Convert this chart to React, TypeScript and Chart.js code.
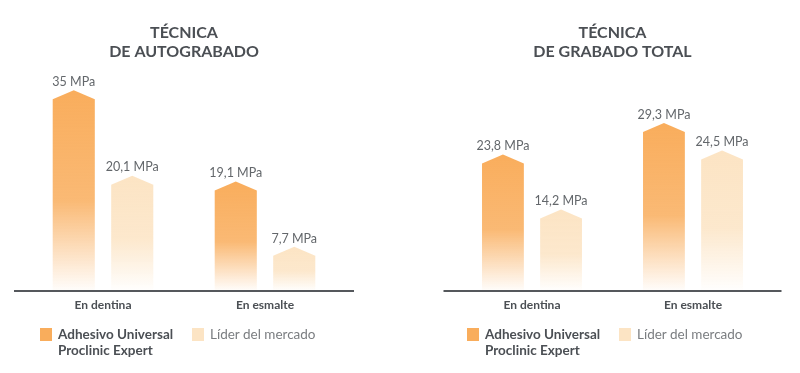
import React, { useEffect, useRef } from "react";
import { Chart, registerables } from "chart.js";

Chart.register(...registerables);

const categories = ["En dentina", "En esmalte"];
const seriesNames = ["Adhesivo Universal\nProclinic Expert", "Líder del mercado"];
const autograbadoProclinic = [35, 19.1];
const autograbadoLider = [20.1, 7.7];
const grabadoTotalProclinic = [23.8, 29.3];
const grabadoTotalLider = [14.2, 24.5];
const titleAuto = ["TÉCNICA", "DE AUTOGRABADO"];
const titleTotal = ["TÉCNICA", "DE GRABADO TOTAL"];
const unit = "MPa";

const ORANGE = [249, 173, 92];
const LIGHT = [252, 228, 196];
const TEXT_DARK = "#4b4f54";

const rgba = (c: number[], a: number) => `rgba(${c[0]},${c[1]},${c[2]},${a})`;

const shapePlugin = {
  id: "shapeBars",
  afterDatasetsDraw(chart: any) {
    const ctx = chart.ctx;
    const area = chart.chartArea;
    chart.data.datasets.forEach((ds: any, i: number) => {
      const meta = chart.getDatasetMeta(i);
      const col = ds.baseRGB as number[];
      meta.data.forEach((bar: any, j: number) => {
        const { x, y, base, width } = bar.getProps(["x", "y", "base", "width"], true);
        const half = width / 2;
        const drop = 9;
        const g = ctx.createLinearGradient(0, y, 0, base);
        g.addColorStop(0, rgba(col, 1));
        g.addColorStop(0.55, rgba(col, 0.85));
        g.addColorStop(1, rgba(col, 0.02));
        ctx.save();
        ctx.beginPath();
        ctx.moveTo(x, y);
        ctx.lineTo(x + half, y + drop);
        ctx.lineTo(x + half, base);
        ctx.lineTo(x - half, base);
        ctx.lineTo(x - half, y + drop);
        ctx.closePath();
        ctx.fillStyle = g;
        ctx.fill();
        const v = ds.data[j];
        const label = String(v).replace(".", ",") + " " + unit;
        ctx.font = "12.5px Lato";
        ctx.fillStyle = "#63676b";
        ctx.textAlign = "center";
        ctx.textBaseline = "bottom";
        ctx.fillText(label, x, y - 2);
        ctx.restore();
      });
    });
    ctx.save();
    ctx.strokeStyle = "#55585c";
    ctx.lineWidth = 2;
    ctx.beginPath();
    ctx.moveTo(area.left - 8, area.bottom);
    ctx.lineTo(area.right + 8, area.bottom);
    ctx.stroke();
    ctx.restore();
  },
};

function makeConfig(title: string[], a: number[], b: number[], padL: number, padR: number): any {
  return {
    type: "bar",
    data: {
      labels: categories,
      datasets: [
        { label: seriesNames[0], data: a, backgroundColor: "rgba(0,0,0,0)", borderWidth: 0, baseRGB: ORANGE },
        { label: seriesNames[1], data: b, backgroundColor: "rgba(0,0,0,0)", borderWidth: 0, baseRGB: LIGHT },
      ],
    },
    options: {
      responsive: false,
      devicePixelRatio: 1,
      animation: false,
      layout: { padding: { left: padL, right: padR, top: 0, bottom: 53.6 } },
      datasets: { bar: { categoryPercentage: 0.722, barPercentage: 0.72 } },
      plugins: {
        legend: { display: false },
        tooltip: { enabled: false },
        title: {
          display: true,
          text: title,
          color: TEXT_DARK,
          font: { family: "Lato", size: 16, weight: "bold", lineHeight: 1.2 },
          padding: { top: 23.4, bottom: 22.7 },
        },
      },
      scales: {
        x: {
          grid: { display: false, drawTicks: false },
          border: { display: false },
          ticks: { color: TEXT_DARK, font: { family: "Lato", size: 12, weight: "bold", lineHeight: 1.2 }, padding: 7 },
        },
        y: { display: false, min: 0, max: 36 },
      },
    },
    plugins: [shapePlugin],
  };
}

function ChartBox(props: { title: string[]; a: number[]; b: number[]; padL: number; padR: number }) {
  const ref = useRef<HTMLCanvasElement>(null);
  useEffect(() => {
    if (!ref.current) return;
    const c = new Chart(ref.current, makeConfig(props.title, props.a, props.b, props.padL, props.padR));
    return () => c.destroy();
  }, []);
  return <canvas ref={ref} width={400} height={373} style={{ display: "block", width: 400, height: 373 }} />;
}

function Legend(props: { left: number }) {
  const sq = (l: number, color: string) => (
    <div style={{ position: "absolute", left: l, top: 328, width: 12, height: 13, background: color }} />
  );
  const base = props.left;
  return (
    <>
      {sq(base, rgba(ORANGE, 1))}
      <div
        style={{
          position: "absolute",
          left: base + 18,
          top: 327,
          font: "bold 13.5px Lato",
          lineHeight: "15.5px",
          color: TEXT_DARK,
          whiteSpace: "pre",
        }}
      >
        {seriesNames[0]}
      </div>
      {sq(base + 152, rgba(LIGHT, 1))}
      <div
        style={{
          position: "absolute",
          left: base + 170,
          top: 327,
          font: "13.5px Lato",
          lineHeight: "15.5px",
          color: "#7a7d80",
          whiteSpace: "pre",
        }}
      >
        {seriesNames[1]}
      </div>
    </>
  );
}

export default function App() {
  return (
    <div style={{ position: "fixed", left: 0, top: 0, width: 800, height: 373, background: "#fff", fontFamily: "Lato" }}>
      <div style={{ position: "absolute", left: 0, top: 0 }}>
        <ChartBox title={titleAuto} a={autograbadoProclinic} b={autograbadoLider} padL={22} padR={54} />
      </div>
      <div style={{ position: "absolute", left: 400, top: 0 }}>
        <ChartBox title={titleTotal} a={grabadoTotalProclinic} b={grabadoTotalLider} padL={51.5} padR={26.5} />
      </div>
      <Legend left={40} />
      <Legend left={467} />
    </div>
  );
}
